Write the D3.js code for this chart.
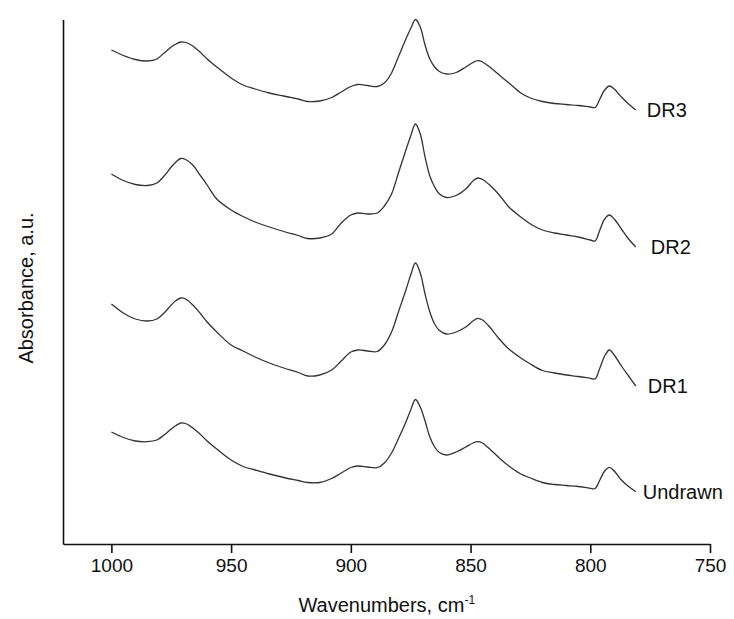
<!DOCTYPE html>
<html lang="en">

<head>
    <meta charset="UTF-8">
    <title>Absorbance spectra</title>
    <style>
        body { margin: 0; background: #fff; }
        svg text { font-family: Arial, "Liberation Sans", sans-serif; fill: #111; }
    </style>
</head>

<body>
    <svg id="chart" width="734" height="619"></svg>

    <script src="https://d3js.org/d3.v7.min.js"></script>
    <script>

        // wavenumbers (cm-1), shared by every spectrum
        var wavenumbers = [1000, 995, 990, 985, 981, 978, 975, 973, 971, 969,
            966, 963, 960, 956, 950, 945, 940, 934, 928, 922,
            918, 913, 908, 904, 900, 897, 893, 889, 886, 883,
            880, 877, 875, 873, 871, 869, 867, 865, 863, 860,
            856, 852, 849, 847, 845, 842, 838, 834, 829, 825,
            820, 815, 810, 805, 800, 798, 796, 794, 792, 790,
            787, 784, 781]

        // stacked absorbance, a.u.
        var undrawn = [1.12, 1.065, 1.03, 1.023, 1.04, 1.09, 1.15, 1.185, 1.21, 1.205,
            1.16, 1.10, 1.03, 0.95, 0.84, 0.775, 0.74, 0.70, 0.665, 0.635,
            0.615, 0.615, 0.655, 0.71, 0.765, 0.78, 0.77, 0.763, 0.81, 0.91,
            1.06, 1.22, 1.34, 1.445, 1.37, 1.23, 1.07, 0.97, 0.915, 0.89,
            0.92, 0.97, 1.01, 1.023, 1.01, 0.95, 0.86, 0.78, 0.70, 0.66,
            0.615, 0.595, 0.585, 0.575, 0.557, 0.555, 0.64, 0.73, 0.767, 0.73,
            0.64, 0.575, 0.523]

        var dr1 = [2.40, 2.31, 2.25, 2.23, 2.25, 2.31, 2.39, 2.435, 2.46, 2.45,
            2.39, 2.31, 2.22, 2.12, 1.99, 1.93, 1.87, 1.81, 1.76, 1.715,
            1.68, 1.69, 1.74, 1.83, 1.92, 1.94, 1.93, 1.925, 1.99, 2.12,
            2.33, 2.54, 2.69, 2.81, 2.71, 2.50, 2.32, 2.20, 2.135, 2.10,
            2.12, 2.17, 2.23, 2.257, 2.24, 2.17, 2.05, 1.95, 1.86, 1.80,
            1.735, 1.71, 1.69, 1.675, 1.657, 1.65, 1.76, 1.88, 1.94, 1.89,
            1.78, 1.68, 1.58]

        var dr2 = [3.70, 3.635, 3.595, 3.585, 3.61, 3.68, 3.77, 3.82, 3.855, 3.845,
            3.79, 3.69, 3.59, 3.45, 3.34, 3.275, 3.22, 3.17, 3.125, 3.085,
            3.055, 3.06, 3.10, 3.21, 3.29, 3.31, 3.30, 3.31, 3.38, 3.50,
            3.72, 3.94, 4.08, 4.20, 4.10, 3.87, 3.68, 3.57, 3.50, 3.465,
            3.485, 3.55, 3.63, 3.66, 3.645, 3.59, 3.49, 3.37, 3.27, 3.20,
            3.14, 3.11, 3.09, 3.07, 3.04, 3.03, 3.14, 3.25, 3.29, 3.25,
            3.15, 3.05, 2.97]

        var dr3 = [4.94, 4.885, 4.845, 4.83, 4.85, 4.91, 4.97, 5.00, 5.02, 5.015,
            4.98, 4.92, 4.85, 4.77, 4.66, 4.59, 4.55, 4.51, 4.48, 4.45,
            4.425, 4.43, 4.465, 4.52, 4.575, 4.595, 4.585, 4.575, 4.61, 4.71,
            4.88, 5.05, 5.155, 5.245, 5.17, 4.99, 4.85, 4.77, 4.725, 4.70,
            4.715, 4.77, 4.815, 4.833, 4.82, 4.77, 4.69, 4.61, 4.51, 4.46,
            4.425, 4.405, 4.395, 4.385, 4.37, 4.365, 4.45, 4.54, 4.58, 4.55,
            4.47, 4.40, 4.34]

        var names = ["Undrawn", "DR1", "DR2", "DR3"]
        var spectra = [undrawn, dr1, dr2, dr3]
        var xTicks = [1000, 950, 900, 850, 800, 750]

        // layout
        var plotLeft = 63.5, plotRight = 710, plotTop = 20, plotBottom = 544
        var labelNudge = { "Undrawn": 7, "DR1": 12, "DR2": 15, "DR3": 11 }

        var svg = d3.select("#chart")

        var x = d3.scaleLinear()
            .domain([1020, 750])
            .range([plotLeft, plotRight])

        var y = d3.scaleLinear()
            .domain([0, 5.24])
            .range([plotBottom, plotTop])

        // x axis, outward ticks, no end ticks
        var xAxis = d3.axisBottom(x)
            .tickValues(xTicks)
            .tickFormat(d3.format("d"))
            .tickSize(9)
            .tickSizeOuter(0)
            .tickPadding(6)

        var gx = svg.append("g")
            .attr("transform", "translate(0," + plotBottom + ")")
            .call(xAxis)
        gx.select(".domain").attr("stroke", "#111").attr("stroke-width", 1.6)
        gx.selectAll(".tick line").attr("stroke", "#111").attr("stroke-width", 1.6)
        gx.selectAll(".tick text").style("font-size", "19px").attr("fill", "#111")

        // y axis is a bare line
        svg.append("line")
            .attr("x1", plotLeft).attr("x2", plotLeft)
            .attr("y1", plotTop).attr("y2", plotBottom + 0.8)
            .attr("stroke", "#111")
            .attr("stroke-width", 1.6)

        // spectra
        var line = d3.line()
            .x(function (d) { return x(d[0]) })
            .y(function (d) { return y(d[1]) })
            .curve(d3.curveCatmullRom.alpha(0.5))

        var series = spectra.map(function (vals, i) {
            return { name: names[i], points: wavenumbers.map(function (w, j) { return [w, vals[j]] }) }
        })

        svg.selectAll(".spectrum")
            .data(series)
            .enter()
            .append("path")
            .attr("class", "spectrum")
            .attr("d", function (d) { return line(d.points) })
            .attr("fill", "none")
            .attr("stroke", "#333")
            .attr("stroke-width", 1.3)

        // series labels next to the end of each curve
        svg.selectAll(".name")
            .data(series)
            .enter()
            .append("text")
            .attr("class", "name")
            .attr("x", function (d) { return x(d.points[d.points.length - 1][0]) + labelNudge[d.name] })
            .attr("y", function (d) { return y(d.points[d.points.length - 1][1]) + 7 })
            .style("font-size", "20px")
            .text(function (d) { return d.name })

        // axis titles
        var xt = svg.append("text")
            .attr("x", (plotLeft + plotRight) / 2)
            .attr("y", 612)
            .attr("text-anchor", "middle")
            .style("font-size", "20px")
        xt.append("tspan").text("Wavenumbers, cm")
        xt.append("tspan").attr("dy", -8).style("font-size", "12px").text("-1")

        svg.append("text")
            .attr("transform", "translate(33," + ((plotTop + plotBottom) / 2 + 6) + ") rotate(-90)")
            .attr("text-anchor", "middle")
            .style("font-size", "20px")
            .text("Absorbance, a.u.")
    </script>

</body>

</html>
